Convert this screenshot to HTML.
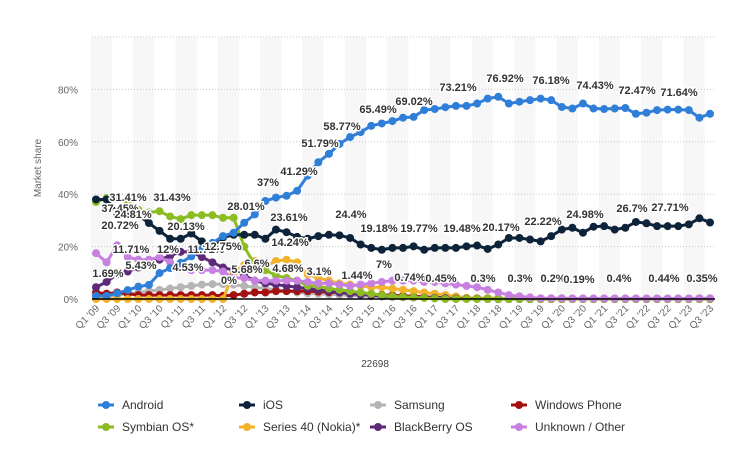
<!DOCTYPE html>
<html><head><meta charset="utf-8"><style>
html,body{margin:0;padding:0;background:#fff;}
svg{display:block;font-family:"Liberation Sans",sans-serif;}
.lbl{font-size:11px;font-weight:bold;fill:#333;stroke:#fff;stroke-width:3px;paint-order:stroke;stroke-linejoin:round;text-anchor:middle;}
</style></head><body>
<svg id="chart" width="732" height="469" viewBox="0 0 732 469"></svg>
<script>
const quarters=[];for(let y=9;y<=23;y++){for(let q=1;q<=4;q++){if(y===23&&q>3)break;quarters.push('Q'+q+" '"+String(y).padStart(2,'0'));}}
const yTicks=[0,20,40,60,80];
const seriesNames=['Android','iOS','Samsung','Windows Phone','Symbian OS*','Series 40 (Nokia)*','BlackBerry OS','Unknown / Other'];
const android=[1.2,1.2,2.2,3.4,4.7,5.4,9.9,11.8,13.8,16.3,19,21.4,24,25.3,29.1,32.3,37.4,38.7,39.4,41.3,47.1,52.2,55.4,59.2,61.8,63.7,66.1,67,67.9,69.2,69.5,72.1,72.5,73.2,73.7,73.7,74.6,76.5,77.2,74.6,75.3,75.9,76.5,75.9,73.3,72.7,74.6,72.7,72.5,72.7,72.9,70.7,71.1,72.1,72.3,72.3,72.1,69.2,70.7];
const ios=[38,38,33,32,32,29,26,23,23,25,22,20,23.5,24.5,24.5,24.5,23,26.5,25.5,23.7,23,24,24.5,24.3,23.3,20.8,19.5,18.8,19.5,19.5,20.1,18.8,19.5,19.5,19.5,20.1,20.4,19.1,20.8,23.3,23.3,22.7,22,24,26.5,27.2,25.3,27.6,27.8,26.5,27.2,29.4,28.9,27.8,27.8,27.8,28.5,30.8,29.2];
const samsung=[1,1,1.5,2,2.5,3,3.5,4,4.5,5,5.5,5.7,5.7,5.5,5,4.5,4,3.5,3,2.5,2.2,2,1.8,1.6,1.4,1.2,1,0.9,0.8,0.7,0.6,0.5,0.5,0.4,0.4,0.3,0.3,0.3,0.3,0.3,0.2,0.2,0.2,0.2,0.2,0.2,0.2,0.2,0.2,0.2,0.2,0.2,0.2,0.2,0.2,0.2,0.2,0.2,0.2];
const windows=[2.5,2,2.5,2,1.5,1.5,1.5,1.5,1.5,1.5,1.5,1.5,1.2,1.5,2,2.5,2.5,3,3,3,3,2.8,2.6,2.5,2.3,2,1.8,1.6,1.4,1.2,1,0.8,0.6,0.5,0.4,0.3,0.2,0.1,0,0,0,0,0,0,0,0,0,0,0,0,0,0,0,0,0,0,0,0,0];
const symbian=[37,38.5,32,36.5,34,33,33.5,31.5,30.5,32,32,32,31,31,20,13,11,9,8,7,5,5,4,3.5,3,2.5,2,1.5,1,0.8,0.6,0.4,0.2,0,0,0,0,0,0,0,0,0,0,0,0,0,0,0,0,0,0,0,0,0,0,0,0,0,0];
const series40=[0,0,0,0,0,0,0,0,0,0,0,0,0,10,13,14.5,12.5,14.5,15,14,9.5,8,7,6,5.5,5,4.5,4.5,4,3.5,3,2.5,2,1.5,1,0.5,0.3,0.3,0.3,0,0,0,0,0,0,0,0,0,0,0,0,0,0,0,0,0,0,0,0];
const blackberry=[4.5,6.5,9.5,10.5,12,14,15,16.5,18,18,16,14,12,11,9,7,6,5.5,5,4.5,4,3.5,3,2.5,2,1.7,1.5,1.2,1,0.8,0.6,0.5,0.4,0.3,0.2,0.1,0.1,0,0,0,0,0,0,0,0,0,0,0,0,0,0,0,0,0,0,0,0,0,0];
const other=[17.5,14,20.5,16,15,15,16,14,12,11,11,11,10.5,8,8,7,7,7,7,7,6.5,6,6,5.5,5,5.5,6,6.5,7,7,7,6.5,6.5,6,5.5,5,4.5,3.5,2.5,1.5,1,0.6,0.3,0.3,0.3,0.2,0.2,0.2,0.2,0.2,0.2,0.2,0.2,0.2,0.2,0.2,0.2,0.3,0.3];
const colors=['#2f7ed8','#0d233a','#b5b5b5','#a50f0f','#8bbc21','#f2b22a','#5c2a78','#c77fe0'];
const drawOrder=[2,3,5,6,4,7,1,0];
const allData=[android,ios,samsung,windows,symbian,series40,blackberry,other];
const dataLabels=[['37.45%',120,208],['31.41%',128,197],['31.43%',172,197],['20.72%',120,225],['24.81%',133,214],['20.13%',186,226],['28.01%',246,206],['37%',268,182],['41.29%',299,171],['51.79%',320,143],['58.77%',342,126],['65.49%',378,109],['69.02%',414,101],['73.21%',458,87],['76.92%',505,78],['76.18%',551,80],['74.43%',595,85],['72.47%',637,90],['71.64%',679,92],['23.61%',289,217],['24.4%',351,214],['19.18%',379,228],['19.77%',419,228],['19.48%',462,228],['20.17%',501,227],['22.22%',543,221],['24.98%',585,214],['26.7%',632,208],['27.71%',670,207],['11.71%',131,249],['12%',168,249],['11.71%',206,249],['12.75%',223,246],['14.24%',290,242],['5.43%',141,265],['4.53%',188,267],['6.6%',257,263],['4.68%',288,268],['1.69%',108,273],['5.68%',247,269],['0%',229,280],['3.1%',319,271],['1.44%',357,275],['7%',384,264],['0.74%',410,277],['0.45%',441,278],['0.3%',483,278],['0.3%',520,278],['0.2%',553,278],['0.19%',579,279],['0.4%',619,278],['0.44%',664,278],['0.35%',702,278]];

const svg=document.getElementById('chart');const NS='http://www.w3.org/2000/svg';
const PL=92,PR=715,Y0=299,Y100=37;
const xS=i=>96+i*(710-96)/(quarters.length-1);
const yS=v=>Y0-(Y0-Y100)*v/100;
function mk(t,a,p){const e=document.createElementNS(NS,t);for(const k in a)e.setAttribute(k,a[k]);(p||svg).appendChild(e);return e;}
// bands
const step=(710-96)/(quarters.length-1);
for(let i=0;i<quarters.length;i+=4){const b=mk('rect',{x:xS(i)-step/2,y:Y100,width:step*2,height:Y0-Y100,fill:'#f7f7f7'});

}
// grid
[100,...yTicks.slice(1)].forEach(v=>{const g=mk('line',{x1:PL,x2:PR,y1:yS(v),y2:yS(v),stroke:'#c8c8c8','stroke-dasharray':'1,2'});

});
yTicks.forEach(v=>{const t=mk('text',{x:78,y:yS(v)+4,'text-anchor':'end','font-size':'10',fill:'#666'});t.textContent=v+'%';

});
const yt=mk('text',{x:0,y:0,transform:'translate(41,168) rotate(-90)','text-anchor':'middle','font-size':'10',fill:'#666'});yt.textContent='Market share';


// series
drawOrder.forEach(s=>{const d=allData[s];const g=mk('g',{});


mk('polyline',{points:d.map((v,i)=>xS(i)+','+yS(v)).join(' '),fill:'none',stroke:colors[s],'stroke-width':3,'stroke-linejoin':'round'},g);
d.forEach((v,i)=>{const c=mk('circle',{cx:xS(i),cy:yS(v),r:4,fill:colors[s]},g);

});});
const ax=mk('line',{x1:PL,x2:PR,y1:Y0,y2:Y0,stroke:'#000','stroke-width':1.5});


quarters.forEach((q,i)=>{if(i%2)return;const t=mk('text',{x:0,y:0,transform:'translate('+(xS(i)+4)+',309) rotate(-45)','text-anchor':'end','font-size':'10',fill:'#666'});t.textContent=q;

});
const xt=mk('text',{x:375,y:367,'text-anchor':'middle','font-size':'10',fill:'#444'});xt.textContent='22698';


dataLabels.forEach(l=>{const t=mk('text',{x:l[1],y:l[2]+4,class:'lbl'});t.textContent=l[0];

});
// legend
const lx=[106,247,378,519],ly=[405,427];
seriesNames.forEach((n,s)=>{const x=lx[s%4],y=ly[Math.floor(s/4)];const g=mk('g',{});


mk('line',{x1:x-8,x2:x+8,y1:y,y2:y,stroke:colors[s],'stroke-width':3},g);
mk('circle',{cx:x,cy:y,r:4,fill:colors[s]},g);
const t=mk('text',{x:x+16,y:y+4,'font-size':'12',fill:'#333'},g);t.textContent=n;});
</script>
</body></html>
